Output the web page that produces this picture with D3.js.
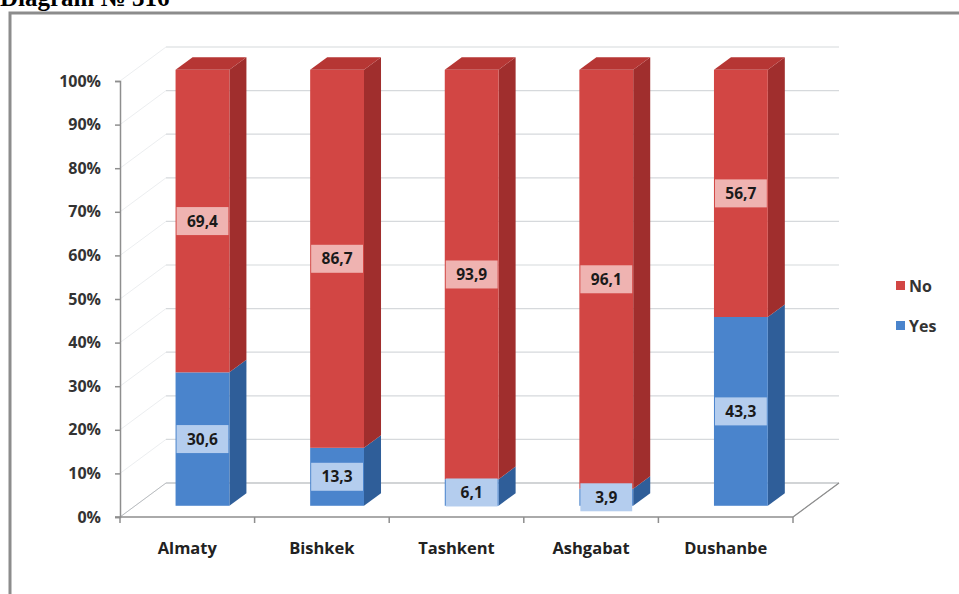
<!DOCTYPE html>
<html>
<head>
<meta charset="utf-8">
<script src="https://cdn.jsdelivr.net/npm/d3@7"></script>
<style>
  html, body { margin: 0; padding: 0; background: #fff; }
  svg { display: block; }
  .tick text { font-family: "Open Sans", "DejaVu Sans", sans-serif; }
</style>
</head>
<body>
<svg id="chart" width="959" height="594"></svg>
<script>
// Share of answers by city, stacked to 100%
const categories = ["Almaty", "Bishkek", "Tashkent", "Ashgabat", "Dushanbe"];
const yesValues = [30.6, 13.3, 6.1, 3.9, 43.3];
const noValues = [69.4, 86.7, 93.9, 96.1, 56.7];
const seriesNames = ["Yes", "No"];
const yTicks = [0, 10, 20, 30, 40, 50, 60, 70, 80, 90, 100];

const svg = d3.select("#chart");
const font = '"Open Sans", "DejaVu Sans", sans-serif';

// colours: front, side, top, label box
const palette = {
  Yes: { front: "#4a84cc", side: "#2f5e99", top: "#3d70b0", label: "#b4cdee" },
  No:  { front: "#d24644", side: "#a02e2d", top: "#b63634", label: "#efb3b1" }
};

// 3D depth vector of the floor, and bar placement inside that depth
const depthX = 46, depthY = -34;
const barFront = 0.33, barBack = 0.70;

const x = d3.scaleBand().domain(categories).range([120, 793])
  .paddingInner(0.6).paddingOuter(0.3);
const xEdge = d3.scaleLinear().domain([0, categories.length]).range([120, 793]);
const y = d3.scaleLinear().domain([0, 100]).range([517, 81]);

// title line at the very top
svg.append("text")
  .attr("x", 0).attr("y", 6)
  .attr("font-family", '"Liberation Serif", "Times New Roman", serif')
  .attr("font-weight", "bold").attr("font-size", 25)
  .attr("fill", "#000")
  .text("Diagram № 316");

// chart frame
svg.append("rect")
  .attr("x", 10).attr("y", 13).attr("width", 980).attr("height", 620)
  .attr("fill", "#fff").attr("stroke", "#8c8c8c").attr("stroke-width", 3);

const walls = svg.append("g");

// back wall gridlines
walls.selectAll("line.grid").data(yTicks).join("line")
  .attr("class", "grid")
  .attr("x1", 120 + depthX).attr("x2", 793 + depthX)
  .attr("y1", d => y(d) + depthY).attr("y2", d => y(d) + depthY)
  .attr("stroke", "#d6d9dc").attr("stroke-width", 1.2);

// side wall gridlines
walls.selectAll("line.side").data(yTicks).join("line")
  .attr("class", "side")
  .attr("x1", 120).attr("x2", 120 + depthX)
  .attr("y1", d => y(d)).attr("y2", d => y(d) + depthY)
  .attr("stroke", "#eceef0").attr("stroke-width", 1);

// floor outline
walls.append("path")
  .attr("d", `M${120},${y(0)} L${120 + depthX},${y(0) + depthY} L${793 + depthX},${y(0) + depthY} L${793},${y(0)}`)
  .attr("fill", "none").attr("stroke", "#b9bcbf").attr("stroke-width", 1);
walls.append("line")
  .attr("x1", 793).attr("y1", y(0)).attr("x2", 793 + depthX).attr("y2", y(0) + depthY)
  .attr("stroke", "#8e8e8e").attr("stroke-width", 1.2);

// y axis
const yAxis = svg.append("g")
  .attr("transform", "translate(120,0)")
  .call(d3.axisLeft(y).tickValues(yTicks).tickFormat(d => d + "%").tickSize(5).tickPadding(14));
yAxis.select(".domain").attr("stroke", "#8e8e8e").attr("stroke-width", 1.5);
yAxis.selectAll(".tick line").attr("stroke", "#8e8e8e").attr("stroke-width", 1.5);
yAxis.selectAll(".tick text")
  .attr("font-size", 16).attr("font-weight", 700).attr("fill", "#333");

// x axis line with ticks at category boundaries
svg.append("line")
  .attr("x1", 115).attr("x2", 793).attr("y1", y(0)).attr("y2", y(0))
  .attr("stroke", "#8e8e8e").attr("stroke-width", 1.5);
svg.selectAll("line.xtick").data(d3.range(categories.length + 1)).join("line")
  .attr("class", "xtick")
  .attr("x1", d => xEdge(d)).attr("x2", d => xEdge(d))
  .attr("y1", y(0)).attr("y2", y(0) + 6)
  .attr("stroke", "#8e8e8e").attr("stroke-width", 1.5);

// category labels
svg.selectAll("text.cat").data(categories).join("text")
  .attr("class", "cat")
  .attr("x", d => xEdge(categories.indexOf(d) + 0.5))
  .attr("y", 554)
  .attr("text-anchor", "middle")
  .attr("font-family", font).attr("font-size", 16.5).attr("font-weight", 700)
  .attr("fill", "#222")
  .text(d => d);

// stacked 3D bars
const rows = categories.map((c, i) => ({ city: c, Yes: yesValues[i], No: noValues[i] }));
const stacked = d3.stack().keys(seriesNames)(rows);

const fx = barFront * depthX, fy = barFront * depthY;
const sx = (barBack - barFront) * depthX, sy = (barBack - barFront) * depthY;
const bw = x.bandwidth();

const bars = svg.append("g");
stacked.forEach(layer => {
  const col = palette[layer.key];
  const isTop = layer.key === "No";
  layer.forEach(seg => {
    const x0 = x(seg.data.city) + fx;
    const x1 = x0 + bw;
    const yb = y(seg[0]) + fy;
    const yt = y(seg[1]) + fy;
    // side face
    bars.append("path")
      .attr("d", `M${x1},${yb} L${x1 + sx},${yb + sy} L${x1 + sx},${yt + sy} L${x1},${yt} Z`)
      .attr("fill", col.side);
    // front face
    bars.append("rect")
      .attr("x", x0).attr("y", yt).attr("width", bw).attr("height", yb - yt)
      .attr("fill", col.front);
    if (isTop) {
      bars.append("path")
        .attr("d", `M${x0},${yt} L${x1},${yt} L${x1 + sx},${yt + sy} L${x0 + sx},${yt + sy} Z`)
        .attr("fill", col.top);
    }
  });
});

// value labels
const fmt = d3.formatLocale({ decimal: ",", thousands: " ", grouping: [3], currency: ["", ""] }).format(".1f");
const labels = svg.append("g");
stacked.forEach(layer => {
  const col = palette[layer.key];
  layer.forEach(seg => {
    const cx = x(seg.data.city) + fx + bw / 2;
    const cy = y((seg[0] + seg[1]) / 2) + fy;
    labels.append("rect")
      .attr("x", cx - bw / 2 + 1).attr("y", cy - 14).attr("width", bw - 2).attr("height", 28)
      .attr("fill", col.label);
    labels.append("text")
      .attr("x", cx).attr("y", cy + 5.5)
      .attr("text-anchor", "middle")
      .attr("font-family", font).attr("font-size", 15.5).attr("font-weight", 700)
      .attr("fill", "#1a1a1a")
      .text(fmt(seg.data[layer.key]));
  });
});

// legend
const legend = svg.append("g");
["No", "Yes"].forEach((k, i) => {
  const ly = 286 + i * 40;
  legend.append("rect")
    .attr("x", 896).attr("y", ly - 5).attr("width", 9).attr("height", 9)
    .attr("fill", palette[k].front);
  legend.append("text")
    .attr("x", 909).attr("y", ly + 5.5)
    .attr("font-family", font).attr("font-size", 16).attr("font-weight", 700)
    .attr("fill", "#333")
    .text(k);
});
</script>
</body>
</html>
